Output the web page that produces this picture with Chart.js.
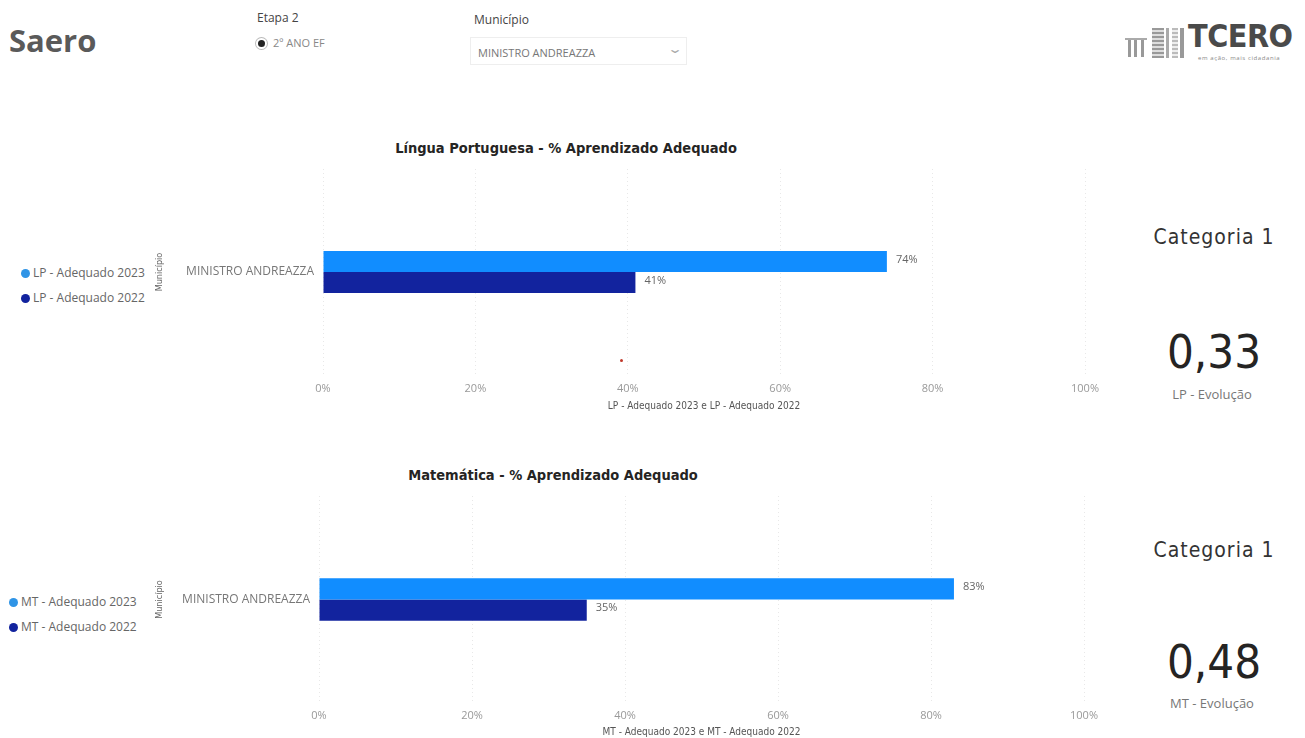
<!DOCTYPE html>
<html><head><meta charset="utf-8">
<script src="https://cdn.jsdelivr.net/npm/chart.js@4"></script>
<style>
html,body{margin:0;padding:0;background:#fff;width:1305px;height:738px;overflow:hidden;font-family:"Open Sans",sans-serif;}
.abs{position:absolute;white-space:nowrap;}
.lg{font-size:12px;color:#666;}
.dot{display:inline-block;width:9px;height:9px;border-radius:50%;vertical-align:-1px;margin-right:3px;}
.ttl{font-family:"DejaVu Sans Condensed","DejaVu Sans",sans-serif;font-weight:bold;font-size:14.5px;color:#252423;transform:translateX(-50%);}
.cat{font-family:"DejaVu Sans Condensed","DejaVu Sans",sans-serif;font-size:21px;color:#333;transform:translateX(-50%);letter-spacing:1px;}
.big{font-family:"DejaVu Sans Condensed","DejaVu Sans",sans-serif;font-size:47px;color:#252423;transform:translateX(-50%);font-weight:300;}
.sub{font-size:13px;color:#777;transform:translateX(-50%);}
canvas{position:absolute;}
</style></head>
<body>
<div class="abs" style="left:9px;top:19px;font-size:31px;font-weight:bold;color:#5a5a5a;">Saero</div>
<div class="abs" style="left:257px;top:9px;font-size:12px;color:#444;">Etapa 2</div>
<div class="abs" style="left:257px;top:35px;font-size:11px;color:#888;"><span style="display:inline-block;width:7px;height:7px;border-radius:50%;background:#222;box-shadow:0 0 0 2px #fff,0 0 0 3px #bbb;margin-right:8px;margin-left:1px;vertical-align:0px;"></span>2º ANO EF</div>
<div class="abs" style="left:474px;top:11px;font-size:12px;color:#444;">Município</div>
<div class="abs" style="left:470px;top:37px;width:217px;height:28px;border:1px solid #eee;box-sizing:border-box;"></div>
<div class="abs" style="left:478px;top:45px;font-size:11px;color:#777;">MINISTRO ANDREAZZA</div>
<div class="abs" style="left:670px;top:40px;font-size:12px;color:#aaa;transform:scaleX(1.6);">&#8964;</div>
<!-- logo -->
<div class="abs" style="left:1128px;top:40px;width:3px;height:17px;background:#999;"></div>
<div class="abs" style="left:1134px;top:40px;width:3px;height:17px;background:#999;"></div>
<div class="abs" style="left:1141px;top:40px;width:3px;height:17px;background:#999;"></div>
<div class="abs" style="left:1125px;top:38px;width:22px;height:2px;background:#aaa;"></div>
<div class="abs" style="left:1152px;top:28px;width:12px;height:30px;background:repeating-linear-gradient(#999 0 2px,#ddd 2px 4px);"></div>
<div class="abs" style="left:1166px;top:28px;width:3px;height:30px;background:#aaa;"></div>
<div class="abs" style="left:1172px;top:28px;width:6px;height:30px;background:repeating-linear-gradient(#bbb 0 2px,#eee 2px 4px);"></div>
<div class="abs" style="left:1180px;top:28px;width:4px;height:30px;background:#999;"></div>
<div class="abs" style="left:1188px;top:17px;font-family:'DejaVu Sans Condensed','DejaVu Sans',sans-serif;font-weight:bold;font-size:32px;color:#4a4a4a;letter-spacing:-0.5px;">TCERO</div>
<div class="abs" style="left:1198px;top:54px;font-size:6px;color:#888;letter-spacing:0.6px;">em ação, mais cidadania</div>

<!-- chart 1 -->
<div class="abs ttl" style="left:566px;top:140px;">Língua Portuguesa - % Aprendizado Adequado</div>
<div class="abs lg" style="left:21px;top:264px;"><span class="dot" style="background:#2f94e6;"></span>LP - Adequado 2023</div>
<div class="abs lg" style="left:21px;top:289px;"><span class="dot" style="background:#12239E;"></span>LP - Adequado 2022</div>
<canvas id="c1"></canvas>
<div class="abs" style="left:620px;top:359px;width:3px;height:3px;border-radius:50%;background:#c0392b;"></div>
<div class="abs cat" style="left:1214px;top:225px;">Categoria 1</div>
<div class="abs big" style="left:1214px;top:324px;">0,33</div>
<div class="abs sub" style="left:1212px;top:385px;">LP - Evolução</div>

<!-- chart 2 -->
<div class="abs ttl" style="left:553px;top:467px;">Matemática - % Aprendizado Adequado</div>
<div class="abs lg" style="left:9px;top:593px;"><span class="dot" style="background:#2f94e6;"></span>MT - Adequado 2023</div>
<div class="abs lg" style="left:9px;top:618px;"><span class="dot" style="background:#12239E;"></span>MT - Adequado 2022</div>
<canvas id="c2"></canvas>
<div class="abs cat" style="left:1214px;top:538px;">Categoria 1</div>
<div class="abs big" style="left:1214px;top:634px;">0,48</div>
<div class="abs sub" style="left:1212px;top:694px;">MT - Evolução</div>

<script>
const categories = ['MINISTRO ANDREAZZA'];
const lpSeries = ['LP - Adequado 2023', 'LP - Adequado 2022'];
const mtSeries = ['MT - Adequado 2023', 'MT - Adequado 2022'];
const lp2023 = [74];
const lp2022 = [41];
const mt2023 = [83];
const mt2022 = [35];
const xTickValues = [0, 20, 40, 60, 80, 100];
const lpAxisTitle = 'LP - Adequado 2023 e LP - Adequado 2022';
const mtAxisTitle = 'MT - Adequado 2023 e MT - Adequado 2022';
const yAxisTitle = 'Município';

const labelPlugin = {
  id: 'valLabels',
  afterDatasetsDraw(chart) {
    const ctx = chart.ctx;
    ctx.save();
    ctx.font = '11px "Open Sans", sans-serif';
    ctx.fillStyle = '#666';
    ctx.textBaseline = 'middle';
    ctx.textAlign = 'left';
    chart.data.datasets.forEach((ds, i) => {
      chart.getDatasetMeta(i).data.forEach((bar, j) => {
        ctx.fillText(ds.data[j] + '%', bar.x + 9, bar.y - 2);
      });
    });
    ctx.restore();
  }
};

function makeChart(id, box, series, d23, d22, axisTitle) {
  const cv = document.getElementById(id);
  cv.style.left = box.left + 'px';
  cv.style.top = box.top + 'px';
  cv.style.width = box.w + 'px';
  cv.style.height = box.h + 'px';
  cv.width = box.w; cv.height = box.h;
  return new Chart(cv, {
    type: 'bar',
    data: {
      labels: categories,
      datasets: [
        { label: series[0], data: d23, backgroundColor: '#118DFF', categoryPercentage: box.cp, barPercentage: 1 },
        { label: series[1], data: d22, backgroundColor: '#12239E', categoryPercentage: box.cp, barPercentage: 1 }
      ]
    },
    options: {
      responsive: false,
      animation: false,
      indexAxis: 'y',
      layout: { padding: { top: box.pt, right: box.pr, left: 0, bottom: 0 } },
      plugins: { legend: { display: false }, tooltip: { enabled: false }, title: { display: false } },
      scales: {
        x: {
          min: 0, max: 100,
          afterBuildTicks(s) { s.ticks = xTickValues.map(v => ({ value: v })); },
          afterFit(s) { s.height = box.xh; },
          ticks: { callback: v => v + '%', color: '#999', font: { family: 'Open Sans', size: 11 }, padding: box.tp, maxRotation: 0 },
          grid: { color: '#e8e8e8', lineWidth: 1, drawTicks: false, borderDash: [1, 3] },
          border: { display: false, dash: [1, 3] },
          title: { display: true, text: axisTitle, color: '#555', font: { family: 'DejaVu Sans Condensed', size: 10 }, padding: { top: 1, bottom: 0 } }
        },
        y: {
          afterFit(s) { s.width = box.yw; },
          ticks: { color: '#777', font: { family: 'Open Sans', size: 12 }, padding: 1 },
          grid: { display: false },
          border: { display: false },
          title: { display: true, text: yAxisTitle, color: '#666', font: { family: 'DejaVu Sans Condensed', size: 9 }, padding: { top: 4, bottom: 0 } }
        }
      }
    },
    plugins: [labelPlugin]
  });
}

makeChart('c1', { left: 150, top: 160, w: 960, h: 252, pt: 9, pr: 25, xh: 37, yw: 173, cp: 0.205, tp: 7 }, lpSeries, lp2023, lp2022, lpAxisTitle);
makeChart('c2', { left: 150, top: 486, w: 960, h: 252, pt: 10, pr: 26, xh: 35, yw: 169, cp: 0.205, tp: 6 }, mtSeries, mt2023, mt2022, mtAxisTitle);
</script>
</body></html>
